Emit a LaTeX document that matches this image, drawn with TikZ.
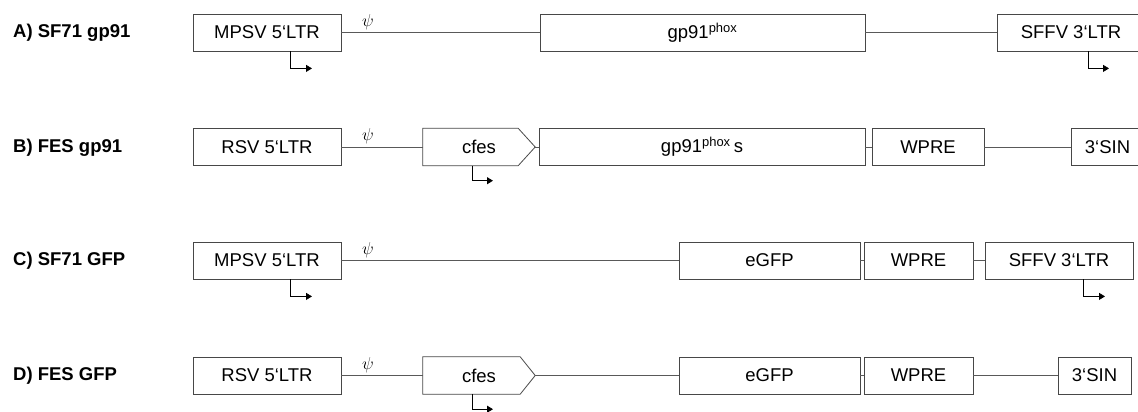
\documentclass[tikz,border=0pt]{standalone}
\usepackage{fontspec}
\setmainfont{Liberation Sans}
\usetikzlibrary{arrows.meta}
\begin{document}
\begin{tikzpicture}[x=1pt,y=-1pt,
  box/.style={draw=black!72, line width=0.8pt, minimum height=37pt, inner sep=0pt, font=\fontsize{18.5}{21}\selectfont},
  shapebox/.style={minimum height=37pt, inner sep=0pt, font=\fontsize{18.5}{21}\selectfont},
  outline/.style={draw=black!72, line width=0.8pt},
  conn/.style={draw=black!65, line width=0.8pt},
  prom/.style={draw=black, line width=0.8pt, -{Triangle[length=6pt,width=7pt]}},
  lab/.style={anchor=west, inner sep=0pt, font=\fontsize{18.5}{21}\selectfont\bfseries},
  psilab/.style={inner sep=0pt, font=\fontsize{18}{18}\selectfont}]
\useasboundingbox (0,0) rectangle (1138,412);
\clip (0,0) rectangle (1138,412);
% Row A
\node[lab] (LA) at (13,33) {A) SF71 gp91};
\node[box, minimum width=148pt] (mA) at (267,32.5) {MPSV 5‘LTR};
\node[box, minimum width=325pt] (gA) at (702.5,32.5) {gp91\textsuperscript{phox}};
\node[box, minimum width=148pt] (sA) at (1071,32.5) {SFFV 3‘LTR};
\node[psilab] (psiA) at (368,22) {$\psi$};
\draw[conn] (mA.east) -- (gA.west);
\draw[conn] (gA.east) -- (sA.west);
\draw[prom] ([xshift=23pt]mA.south) |- ++(22,17);
\draw[prom] ([xshift=17pt]sA.south) |- ++(21,17);
% Row B
\node[lab] (LB) at (13,147.5) {B) FES gp91};
\node[box, minimum width=148pt] (rB) at (267,147) {RSV 5‘LTR};
\node[shapebox, minimum width=112pt] (cB) at (479,147) {cfes};
\draw[outline] (cB.north west) -- ([xshift=-17pt]cB.north east) -- (cB.east) -- ([xshift=-17pt]cB.south east) -- (cB.south west) -- cycle;
\node[box, minimum width=326pt] (gB) at (702,147) {gp91\textsuperscript{phox}\,s};
\node[box, minimum width=112pt] (wB) at (928,147) {WPRE};
\node[box, minimum width=73pt] (iB) at (1107.5,147) {3‘SIN};
\node[psilab] (psiB) at (368,136.5) {$\psi$};
\draw[conn] (rB.east) -- (cB.west);
\draw[conn] (cB.east) -- (gB.west);
\draw[conn] (gB.east) -- (wB.west);
\draw[conn] (wB.east) -- (iB.west);
\draw[prom] ([xshift=-7pt]cB.south) |- ++(21,15);
% Row C
\node[lab] (LC) at (13,261) {C) SF71 GFP};
\node[box, minimum width=148pt] (mC) at (267,260.5) {MPSV 5‘LTR};
\node[box, minimum width=181pt] (eC) at (769.5,260.5) {eGFP};
\node[box, minimum width=109pt] (wC) at (918.5,260.5) {WPRE};
\node[box, minimum width=148pt] (sC) at (1059,260.5) {SFFV 3‘LTR};
\node[psilab] (psiC) at (368,250) {$\psi$};
\draw[conn] (mC.east) -- (eC.west);
\draw[conn] (eC.east) -- (wC.west);
\draw[conn] (wC.east) -- (sC.west);
\draw[prom] ([xshift=23pt]mC.south) |- ++(22,17);
\draw[prom] ([xshift=24pt]sC.south) |- ++(22,17);
% Row D
\node[lab] (LD) at (13,376) {D) FES GFP};
\node[box, minimum width=148pt] (rD) at (267,375.5) {RSV 5‘LTR};
\node[shapebox, minimum width=112pt] (cD) at (479,375.5) {cfes};
\draw[outline] (cD.north west) -- ([xshift=-15pt]cD.north east) -- (cD.east) -- ([xshift=-15pt]cD.south east) -- (cD.south west) -- cycle;
\node[box, minimum width=181pt] (eD) at (769.5,375.5) {eGFP};
\node[box, minimum width=109pt] (wD) at (918.5,375.5) {WPRE};
\node[box, minimum width=73pt] (iD) at (1094.5,375.5) {3‘SIN};
\node[psilab] (psiD) at (368,365) {$\psi$};
\draw[conn] (rD.east) -- (cD.west);
\draw[conn] (cD.east) -- (eD.west);
\draw[conn] (eD.east) -- (wD.west);
\draw[conn] (wD.east) -- (iD.west);
\draw[prom] ([xshift=-7pt]cD.south) |- ++(21,15);
\end{tikzpicture}
\end{document}
